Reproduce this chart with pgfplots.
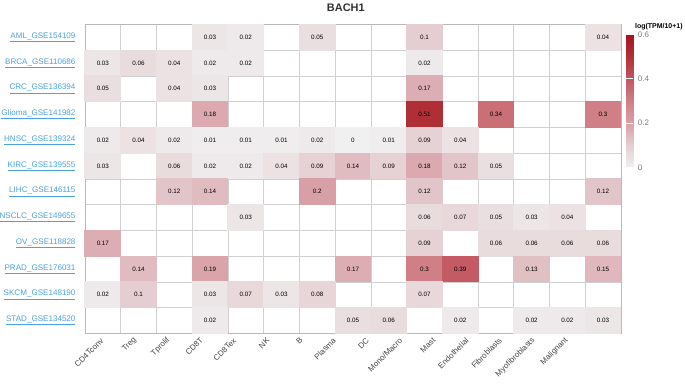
\documentclass[border=0pt]{standalone}
\usepackage{pgfplots}
\usepackage{pgfplotstable}
\usepackage{fontspec}
\setmainfont{Liberation Sans}
\pgfplotsset{compat=1.18}
\definecolor{linkblue}{RGB}{74,163,223}
\definecolor{gridgray}{RGB}{208,208,208}
\definecolor{labgray}{RGB}{70,70,70}
\pgfplotstableread{
x y c
3 0 0.03
4 0 0.02
6 0 0.05
9 0 0.1
14 0 0.04
0 1 0.03
1 1 0.06
2 1 0.04
3 1 0.02
4 1 0.02
9 1 0.02
0 2 0.05
2 2 0.04
3 2 0.03
9 2 0.17
3 3 0.18
9 3 0.51
11 3 0.34
14 3 0.3
0 4 0.02
1 4 0.04
2 4 0.02
3 4 0.01
4 4 0.01
5 4 0.01
6 4 0.02
7 4 0
8 4 0.01
9 4 0.09
10 4 0.04
0 5 0.03
2 5 0.06
3 5 0.02
4 5 0.02
5 5 0.04
6 5 0.09
7 5 0.14
8 5 0.09
9 5 0.18
10 5 0.12
11 5 0.05
2 6 0.12
3 6 0.14
6 6 0.2
9 6 0.12
14 6 0.12
4 7 0.03
9 7 0.06
10 7 0.07
11 7 0.05
12 7 0.03
13 7 0.04
0 8 0.17
9 8 0.09
11 8 0.06
12 8 0.06
13 8 0.06
14 8 0.06
1 9 0.14
3 9 0.19
7 9 0.17
9 9 0.3
10 9 0.39
12 9 0.13
14 9 0.15
0 10 0.02
1 10 0.1
3 10 0.03
4 10 0.07
5 10 0.03
6 10 0.08
9 10 0.07
3 11 0.02
7 11 0.05
8 11 0.06
10 11 0.02
12 11 0.02
13 11 0.02
14 11 0.03
}\heat
\begin{document}
\begin{tikzpicture}
\begin{axis}[
  x=35.73bp, y=25.75bp, y dir=reverse,
  xmin=-0.5, xmax=14.5, ymin=-0.5, ymax=11.5,
  axis on top,
  axis line style={gray!55},
  colormap={bach}{rgb255(0cm)=(240,240,240); rgb255(1cm)=(229,206,209); rgb255(2cm)=(216,160,166); rgb255(3cm)=(207,127,133); rgb255(4cm)=(194,86,96); rgb255(5cm)=(177,50,58); rgb255(6cm)=(165,20,32)},
  point meta min=0, point meta max=0.6,
  xtick={0,0.929,1.858,2.787,3.716,4.645,5.574,6.503,7.432,8.361,9.29,10.219,11.148,12.077,13.006},
  xticklabels={CD4Tconv,Treg,Tprolif,CD8T,CD8Tex,NK,B,Plasma,DC,Mono/Macro,Mast,Endothelial,Fibroblasts,Myofibroblasts,Malignant},
  ytick={0,...,11},
  yticklabels={\underline{AML\_GSE154109},\underline{BRCA\_GSE110686},\underline{CRC\_GSE136394},\underline{Glioma\_GSE141982},\underline{HNSC\_GSE139324},\underline{KIRC\_GSE139555},\underline{LIHC\_GSE146115},\underline{NSCLC\_GSE149655},\underline{OV\_GSE118828},\underline{PRAD\_GSE176031},\underline{SKCM\_GSE148190},\underline{STAD\_GSE134520}},
  major tick length=0, minor tick length=0,
  minor xtick={-0.5,0.5,...,14.5},
  minor ytick={-0.5,0.5,...,11.5},
  xminorgrids, yminorgrids,
  minor grid style={gridgray, line width=0.6bp},
  xticklabel style={yshift=-5bp, rotate=45, anchor=east, font=\fontsize{8}{9}\selectfont, text=labgray, inner sep=1bp},
  yticklabel style={font=\fontsize{8.1}{9}\selectfont, text=linkblue, xshift=-6bp},
  colorbar,
  colorbar style={
    at={(parent axis.north east)}, anchor=north west,
    xshift=-3bp, yshift=-10bp,
    scale only axis, width=7bp, height=133bp,
    ytick={0,0.2,0.4,0.6},
    yticklabels={0,0.2,0.4,0.6},
    major tick length=0,
    axis line style={draw=none},
    axis on top,
    ymajorgrids, major grid style={white, line width=0.8bp},
    yticklabel style={font=\fontsize{8}{9}\selectfont, text=gray, xshift=1bp},
  },
]
\addplot[scatter, only marks, mark=square*, mark size=12.93pt, scatter src=explicit,
  scatter/use mapped color={draw=mapped color, fill=mapped color},
  mark options={xscale=1.3876, line width=0pt}]
  table[x=x, y=y, meta=c]{\heat};
\addplot[draw=none, mark=none, point meta=explicit,
  nodes near coords={\pgfmathprintnumber[fixed, precision=2, assume math mode=true]{\pgfplotspointmeta}},
  nodes near coords align=center,
  every node near coord/.append style={font=\fontsize{6.3}{7}\selectfont, text=black, anchor=center, inner sep=0pt}]
  table[x=x, y=y, meta=c]{\heat};
\coordinate (gridBL) at (axis cs:-0.5,11.5);
\coordinate (gridTR) at (axis cs:14.5,-0.5);
\coordinate (titlepos) at (axis cs:6.8,-0.5);
\end{axis}
\node[font=\bfseries\fontsize{11}{12}\selectfont, text=labgray!70!black] at ([yshift=17bp]titlepos) {BACH1};
\node[font=\bfseries\fontsize{7}{8}\selectfont, anchor=west, inner sep=0pt] at ([xshift=14bp, yshift=-2bp]gridTR) {log(TPM/10+1)};
\pgfresetboundingbox
\path (gridBL) ++(-85bp,-52.6bp) rectangle ++(685bp,386bp);
\end{tikzpicture}
\end{document}
